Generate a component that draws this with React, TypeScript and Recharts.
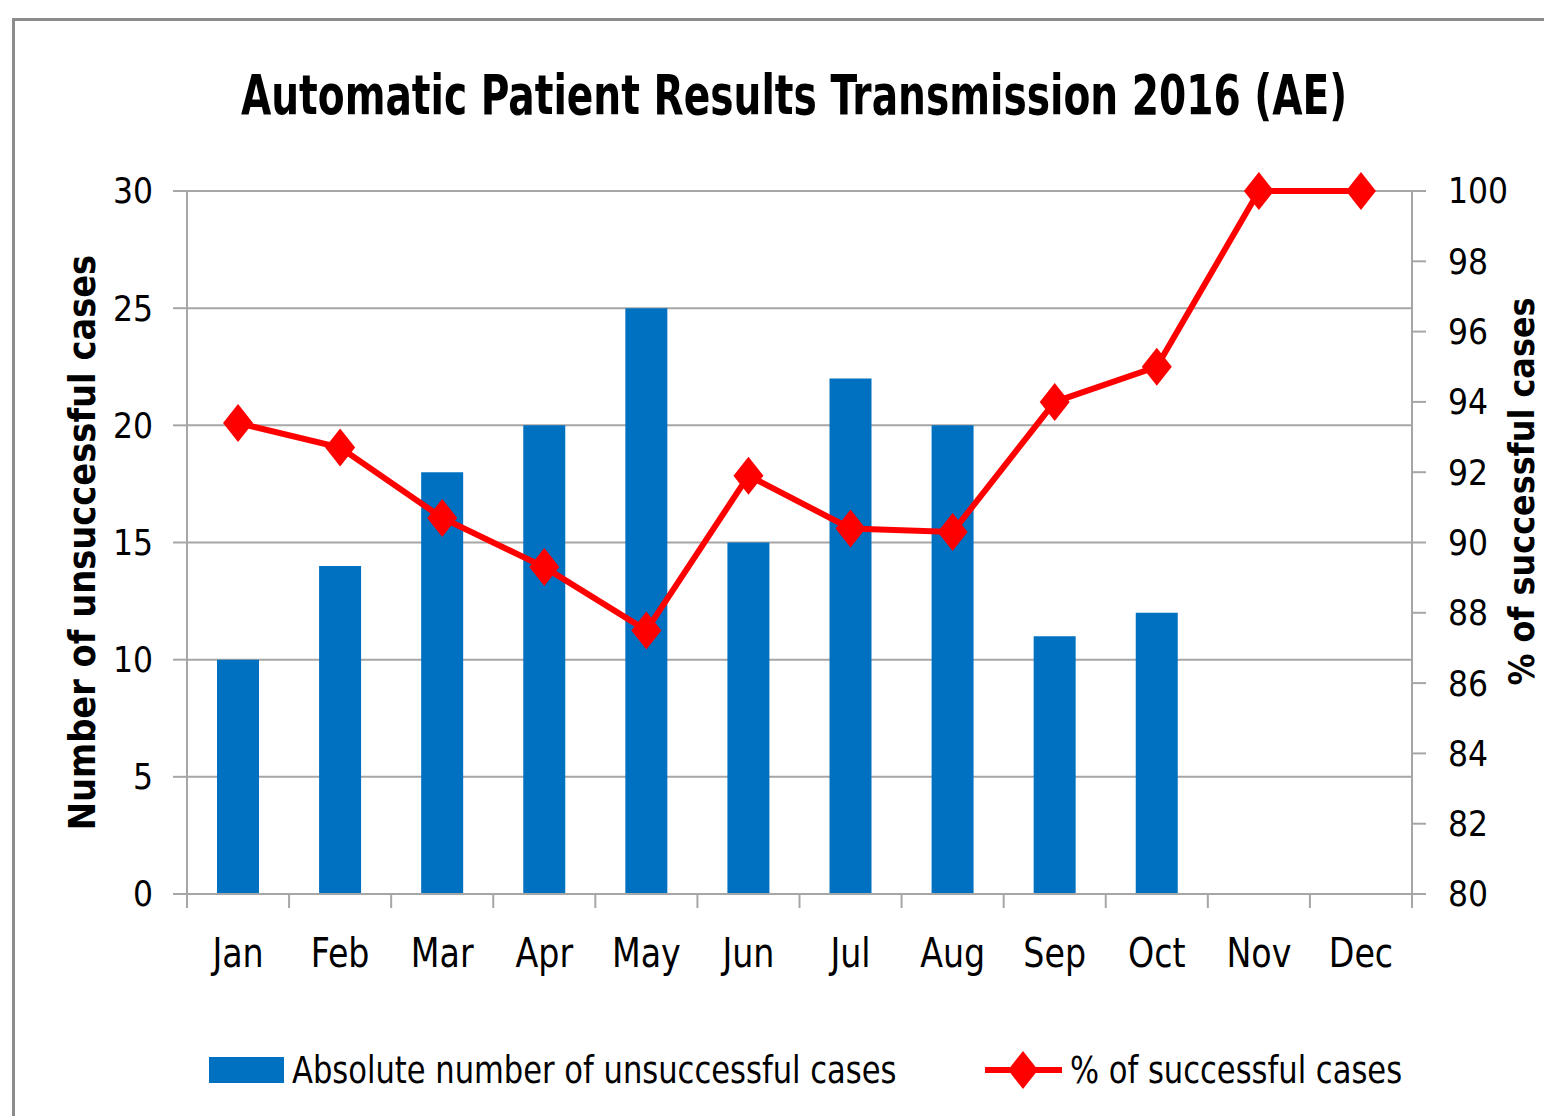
import React from "react";
import {
  ComposedChart,
  Bar,
  Line,
  XAxis,
  YAxis,
  CartesianGrid,
  Legend,
  Label,
} from "recharts";

const months = ["Jan", "Feb", "Mar", "Apr", "May", "Jun", "Jul", "Aug", "Sep", "Oct", "Nov", "Dec"];
const unsuccessful: (number | null)[] = [10, 14, 18, 20, 25, 15, 22, 20, 11, 12, null, null];
const successPct = [93.4, 92.7, 90.7, 89.3, 87.5, 91.9, 90.4, 90.3, 94.0, 95.0, 100, 100];
const leftTicks = [0, 5, 10, 15, 20, 25, 30];
const rightTicks = [80, 82, 84, 86, 88, 90, 92, 94, 96, 98, 100];

const data = months.map((m, i) => ({ month: m, unsuccessful: unsuccessful[i], pct: successPct[i] }));

const W = 1544;
const H = 1116;
const PLOT_LEFT = 187;
const PLOT_RIGHT = 1412;
const PLOT_TOP = 191;
const PLOT_BOTTOM = 894;
const BAND = (PLOT_RIGHT - PLOT_LEFT) / months.length;

const FONT = '"Liberation Sans Narrow", "DejaVu Sans Condensed", "Arial Narrow", sans-serif';
const GRID = "#a6a6a6";
const BLUE = "#0070C0";
const RED = "#FF0000";

const Diamond = (props: any) => {
  const { cx, cy } = props;
  if (cx == null || cy == null) return null;
  return <path d={`M${cx},${cy - 19} L${cx + 15},${cy} L${cx},${cy + 19} L${cx - 15},${cy} Z`} fill={RED} />;
};

const MonthTick = (props: any) => {
  const { x, y, payload, index } = props;
  const last = index === months.length - 1;
  return (
    <g>
      <line x1={x - BAND / 2} x2={x - BAND / 2} y1={y - 14} y2={y} stroke={GRID} strokeWidth={2} />
      {last && <line x1={x + BAND / 2} x2={x + BAND / 2} y1={y - 14} y2={y} stroke={GRID} strokeWidth={2} />}
      <text
        transform={`translate(${x} ${y + 59}) scale(1 1.08)`}
        textAnchor="middle"
        fontSize={37}
        fontFamily={FONT}
        fill="#000"
      >
        {payload.value}
      </text>
    </g>
  );
};

const LegendContent = () => (
  <svg width={W} height={60}>
    <rect x={209} y={17} width={75} height={26} fill={BLUE} />
    <text transform="translate(292 43) scale(1 1.12)" fontSize={34} fontFamily={FONT} fill="#000">
      Absolute number of unsuccessful cases
    </text>
    <line x1={985} x2={1062} y1={30} y2={30} stroke={RED} strokeWidth={6} />
    <path d="M1023,11 L1038,30 L1023,49 L1008,30 Z" fill={RED} />
    <text transform="translate(1070 43) scale(1 1.12)" fontSize={34} fontFamily={FONT} fill="#000">
      % of successful cases
    </text>
  </svg>
);

export default function App() {
  return (
    <div style={{ position: "absolute", left: 0, top: 0, width: W, height: H, overflow: "hidden", background: "#fff" }}>
      <div
        style={{
          position: "absolute",
          left: 12,
          top: 18,
          width: W + 40,
          height: H + 40,
          border: "3px solid #8c8c8c",
          boxSizing: "border-box",
        }}
      />
      <div
        style={{
          position: "absolute",
          left: 0,
          top: 70,
          width: W,
          height: 50,
          lineHeight: "50px",
          textAlign: "center",
          fontFamily: FONT,
          fontWeight: "bold",
          fontSize: 43.5,
          color: "#000",
          paddingLeft: 44,
          boxSizing: "border-box",
          transform: "scaleY(1.28)",
          transformOrigin: "50% 50%",
          whiteSpace: "nowrap",
        }}
      >
        Automatic Patient Results Transmission 2016 (AE)
      </div>
      <div style={{ position: "absolute", left: 0, top: 0 }}>
        <ComposedChart width={W} height={H} data={data} margin={{ top: PLOT_TOP, right: 0, bottom: 0, left: 0 }}>
          <CartesianGrid yAxisId="left" vertical={false} stroke={GRID} strokeWidth={2} />
          <XAxis
            dataKey="month"
            height={H - PLOT_BOTTOM}
            stroke={GRID}
            strokeWidth={2}
            tickLine={false}
            tickSize={14}
            tickMargin={0}
            tick={<MonthTick />}
            interval={0}
          />
          <YAxis
            yAxisId="left"
            orientation="left"
            width={PLOT_LEFT}
            domain={[0, 30]}
            ticks={leftTicks}
            interval={0}
            stroke={GRID}
            strokeWidth={2}
            tickSize={14}
            tickMargin={20}
            tick={{ fill: "#000", fontSize: 35, fontFamily: FONT }}
          >
            <Label
              content={(p: any) => {
                const vb = p.viewBox;
                const cx = 82;
                const cy = vb.y + vb.height / 2;
                return (
                  <text
                    x={cx}
                    y={cy}
                    transform={`rotate(-90 ${cx} ${cy})`}
                    textAnchor="middle"
                    dominantBaseline="central"
                    fontSize={37.5}
                    fontWeight="bold"
                    fontFamily={FONT}
                    fill="#000"
                  >
                    Number of unsuccessful cases
                  </text>
                );
              }}
            />
          </YAxis>
          <YAxis
            yAxisId="right"
            orientation="right"
            width={W - PLOT_RIGHT}
            domain={[80, 100]}
            ticks={rightTicks}
            interval={0}
            stroke={GRID}
            strokeWidth={2}
            tickSize={14}
            tickMargin={22}
            tick={{ fill: "#000", fontSize: 35, fontFamily: FONT }}
          >
            <Label
              content={(p: any) => {
                const vb = p.viewBox;
                const cx = 1521;
                const cy = vb.y + vb.height / 2 - 51;
                return (
                  <text
                    x={cx}
                    y={cy}
                    transform={`rotate(-90 ${cx} ${cy})`}
                    textAnchor="middle"
                    dominantBaseline="central"
                    fontSize={35.5}
                    fontWeight="bold"
                    fontFamily={FONT}
                    fill="#000"
                  >
                    % of successful cases
                  </text>
                );
              }}
            />
          </YAxis>
          <Bar yAxisId="left" dataKey="unsuccessful" fill={BLUE} barSize={42} isAnimationActive={false} />
          <Line
            yAxisId="right"
            dataKey="pct"
            stroke={RED}
            strokeWidth={6}
            dot={<Diamond />}
            activeDot={false}
            isAnimationActive={false}
          />
          <Legend
            layout="horizontal"
            verticalAlign="middle"
            wrapperStyle={{ top: 1040, left: 0, width: W, height: 60 }}
            content={<LegendContent />}
          />
        </ComposedChart>
      </div>
    </div>
  );
}
